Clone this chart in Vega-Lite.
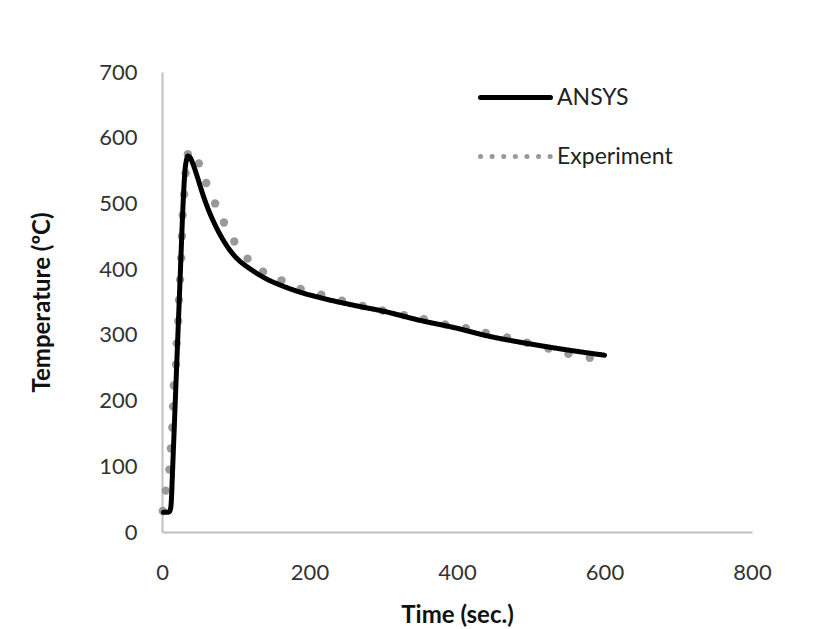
{
  "$schema": "https://vega.github.io/schema/vega-lite/v6.json",
  "width": 590,
  "height": 460,
  "autosize": {"type": "none"},
  "padding": {"left": 162, "top": 72, "right": 68, "bottom": 97},
  "background": "white",
  "config": {
    "view": {"stroke": null},
    "font": "Lato",
    "axis": {"grid": false, "ticks": false, "labelFlush": false, "domainColor": "#bfbfbf", "domainWidth": 2, "labelFont": "Lato", "labelFontSize": 22, "labelColor": "#333333", "titleFont": "Lato", "titleFontSize": 24, "titleFontWeight": "bold", "titleColor": "#111111"},
    "legend": {"title": null, "orient": "none", "legendX": 316, "legendY": -12, "symbolType": "stroke", "symbolSize": 4900, "symbolStrokeWidth": 5, "labelFontSize": 23, "labelColor": "#222222", "labelFont": "Lato", "labelOffset": 4, "rowPadding": 9}
  },
  "datasets": {
    "ansys": [
      {"series": "ANSYS", "t": 2, "T": 30}, {"series": "ANSYS", "t": 8, "T": 30}, {"series": "ANSYS", "t": 10, "T": 31},
      {"series": "ANSYS", "t": 12, "T": 38}, {"series": "ANSYS", "t": 13, "T": 55}, {"series": "ANSYS", "t": 14, "T": 84},
      {"series": "ANSYS", "t": 16, "T": 141}, {"series": "ANSYS", "t": 18, "T": 199}, {"series": "ANSYS", "t": 20, "T": 256},
      {"series": "ANSYS", "t": 22, "T": 313}, {"series": "ANSYS", "t": 24, "T": 370}, {"series": "ANSYS", "t": 26, "T": 428},
      {"series": "ANSYS", "t": 28, "T": 485}, {"series": "ANSYS", "t": 29.5, "T": 520}, {"series": "ANSYS", "t": 31, "T": 548},
      {"series": "ANSYS", "t": 33, "T": 565}, {"series": "ANSYS", "t": 35, "T": 572}, {"series": "ANSYS", "t": 38, "T": 570},
      {"series": "ANSYS", "t": 42, "T": 560}, {"series": "ANSYS", "t": 48, "T": 540}, {"series": "ANSYS", "t": 55, "T": 515},
      {"series": "ANSYS", "t": 62, "T": 493}, {"series": "ANSYS", "t": 70, "T": 472}, {"series": "ANSYS", "t": 80, "T": 450},
      {"series": "ANSYS", "t": 90, "T": 432}, {"series": "ANSYS", "t": 100, "T": 418}, {"series": "ANSYS", "t": 110, "T": 408},
      {"series": "ANSYS", "t": 120, "T": 400}, {"series": "ANSYS", "t": 140, "T": 386}, {"series": "ANSYS", "t": 160, "T": 376},
      {"series": "ANSYS", "t": 190, "T": 364}, {"series": "ANSYS", "t": 220, "T": 355}, {"series": "ANSYS", "t": 260, "T": 345},
      {"series": "ANSYS", "t": 300, "T": 336}, {"series": "ANSYS", "t": 350, "T": 322}, {"series": "ANSYS", "t": 400, "T": 310},
      {"series": "ANSYS", "t": 435, "T": 300}, {"series": "ANSYS", "t": 500, "T": 286}, {"series": "ANSYS", "t": 550, "T": 277},
      {"series": "ANSYS", "t": 600, "T": 269}
    ],
    "experiment": [
      {"series": "Experiment", "t": 1, "T": 32}, {"series": "Experiment", "t": 5, "T": 63}, {"series": "Experiment", "t": 10, "T": 95},
      {"series": "Experiment", "t": 12, "T": 127}, {"series": "Experiment", "t": 14, "T": 159}, {"series": "Experiment", "t": 15, "T": 191},
      {"series": "Experiment", "t": 16, "T": 223}, {"series": "Experiment", "t": 19, "T": 255}, {"series": "Experiment", "t": 20, "T": 287},
      {"series": "Experiment", "t": 22, "T": 321}, {"series": "Experiment", "t": 23, "T": 353}, {"series": "Experiment", "t": 24.5, "T": 384},
      {"series": "Experiment", "t": 26, "T": 417}, {"series": "Experiment", "t": 27, "T": 450}, {"series": "Experiment", "t": 28, "T": 482},
      {"series": "Experiment", "t": 30, "T": 514}, {"series": "Experiment", "t": 32, "T": 546}, {"series": "Experiment", "t": 35, "T": 575},
      {"series": "Experiment", "t": 50, "T": 561}, {"series": "Experiment", "t": 60, "T": 531}, {"series": "Experiment", "t": 72, "T": 500},
      {"series": "Experiment", "t": 84, "T": 471}, {"series": "Experiment", "t": 98, "T": 442}, {"series": "Experiment", "t": 116, "T": 416},
      {"series": "Experiment", "t": 137, "T": 396}, {"series": "Experiment", "t": 162, "T": 383}, {"series": "Experiment", "t": 188, "T": 370},
      {"series": "Experiment", "t": 216, "T": 361}, {"series": "Experiment", "t": 244, "T": 352}, {"series": "Experiment", "t": 272, "T": 344},
      {"series": "Experiment", "t": 299, "T": 337}, {"series": "Experiment", "t": 328, "T": 330}, {"series": "Experiment", "t": 355, "T": 324},
      {"series": "Experiment", "t": 384, "T": 316}, {"series": "Experiment", "t": 412, "T": 310}, {"series": "Experiment", "t": 439, "T": 303},
      {"series": "Experiment", "t": 468, "T": 296}, {"series": "Experiment", "t": 495, "T": 288}, {"series": "Experiment", "t": 524, "T": 279},
      {"series": "Experiment", "t": 551, "T": 271}, {"series": "Experiment", "t": 580, "T": 265}
    ]
  },
  "encoding": {
    "x": {"field": "t", "type": "quantitative", "title": "Time (sec.)", "scale": {"domain": [0, 800], "nice": false}, "axis": {"values": [0, 200, 400, 600, 800], "labelPadding": 30, "titlePadding": 20}},
    "y": {"field": "T", "type": "quantitative", "title": "Temperature (ºC)", "scale": {"domain": [0, 700], "nice": false}, "axis": {"values": [0, 100, 200, 300, 400, 500, 600, 700], "labelPadding": 25, "titlePadding": 44}}
  },
  "layer": [
    {
      "data": {"name": "experiment"},
      "mark": {"type": "circle", "size": 70, "opacity": 1, "color": "#999999"}
    },
    {
      "data": {"name": "ansys"},
      "mark": {"type": "line", "strokeWidth": 5, "strokeCap": "round", "strokeJoin": "round", "interpolate": "monotone"},
      "encoding": {
        "color": {"field": "series", "type": "nominal", "scale": {"domain": ["ANSYS", "Experiment"], "range": ["#000000", "#999999"]},
          "legend": {"encode": {"symbols": {"update": {"strokeCap": {"value": "round"}}}}}},
        "strokeDash": {"field": "series", "type": "nominal", "scale": {"domain": ["ANSYS", "Experiment"], "range": [[1, 0], [0.1, 11.5]]},
          "legend": {"encode": {"symbols": {"update": {"strokeCap": {"value": "round"}}}}}}
      }
    }
  ]
}
